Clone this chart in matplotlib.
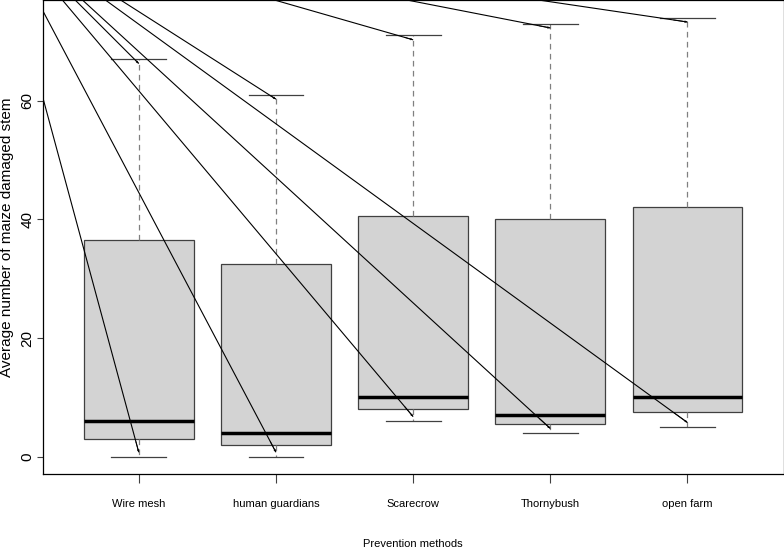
import matplotlib
matplotlib.use("Agg")
import matplotlib.pyplot as plt
from matplotlib import font_manager

# ---- data ----
categories = ["Wire mesh", "human guardians", "Scarecrow", "Thornybush", "open farm"]
q1 = [3.0, 2.0, 8.0, 5.5, 7.5]
medians = [6.0, 4.0, 10.0, 7.0, 10.0]
q3 = [36.5, 32.5, 40.5, 40.0, 42.0]
whisker_low = [0.0, 0.0, 6.0, 4.0, 5.0]
whisker_high = [67.0, 61.0, 71.0, 73.0, 74.0]
y_ticks = [0, 20, 40, 60]
line_origin_x = -0.05
line_origin_y = 90.5
arrow_gap = 0.75

x_label = "Prevention methods"
y_label = "Average number of maize damaged stem"

REG = ["Liberation Sans", "DejaVu Sans"]
installed = {f.name for f in font_manager.fontManager.ttflist}
if "Liberation Sans Narrow" in installed:
    NARROW = ["Liberation Sans Narrow", "Liberation Sans", "DejaVu Sans"]
    narrow_size = 8.8
else:
    NARROW = REG
    narrow_size = 8.0

fig = plt.figure(figsize=(7.84, 5.49), dpi=100)
ax = fig.add_axes([0.0545, 0.1361, 0.9449, 0.8639])

positions = list(range(1, len(categories) + 1))
stats = []
for c, a, m, b, lo, hi in zip(categories, q1, medians, q3, whisker_low, whisker_high):
    stats.append(dict(label=c, q1=a, med=m, q3=b, whislo=lo, whishi=hi, fliers=[]))

ax.bxp(stats, positions=positions, widths=0.8, capwidths=0.4,
       patch_artist=True, showfliers=False,
       boxprops=dict(facecolor="#D3D3D3", edgecolor="#404040", linewidth=0.9),
       medianprops=dict(color="black", linewidth=2.5, solid_capstyle="butt"),
       whiskerprops=dict(color="#808080", linewidth=0.9, linestyle=(0, (4.5, 3.5))),
       capprops=dict(color="#404040", linewidth=0.9))

# connector lines from a common point outside the plot to whisker ends
for pos, lo, hi in zip(positions, whisker_low, whisker_high):
    for tip in (lo + arrow_gap, hi - arrow_gap):
        ax.plot([line_origin_x, pos], [line_origin_y, tip], color="black", lw=0.8,
                solid_capstyle="butt")
        back_x = pos - 0.02 * (pos - line_origin_x)
        back_y = tip - 0.02 * (tip - line_origin_y)
        ax.annotate("", xy=(pos, tip), xytext=(back_x, back_y),
                    arrowprops=dict(arrowstyle="->,head_length=0.12,head_width=0.05",
                                    lw=0.6, color="black", shrinkA=0, shrinkB=0))

ax.set_xlim(0.3, 5.7)
ax.set_ylim(-2.96, 76.96)

ax.set_xticks(positions)
ax.set_xticklabels(categories, fontsize=narrow_size, family=NARROW)
ax.set_yticks(y_ticks)
ax.set_yticklabels([str(t) for t in y_ticks], fontsize=11, family=REG)

ax.tick_params(axis="x", length=6.3, width=0.8, color="#404040", pad=11.5)
ax.tick_params(axis="y", length=4.3, width=0.8, color="#404040", pad=1.6, labelrotation=90)
for lbl in ax.get_yticklabels():
    lbl.set_va("center")

for s in ax.spines.values():
    s.set_linewidth(0.9)
    s.set_color("black")

ax.set_xlabel(x_label, fontsize=narrow_size, family=NARROW)
ax.xaxis.set_label_coords(0.5, -0.1465)
ax.xaxis.label.set_va("center")

ax.set_ylabel(y_label, fontsize=11, family=REG)
ax.yaxis.set_label_coords(-0.0482, 0.5)
ax.yaxis.label.set_va("center")

fig.savefig("out.png", dpi=100)
